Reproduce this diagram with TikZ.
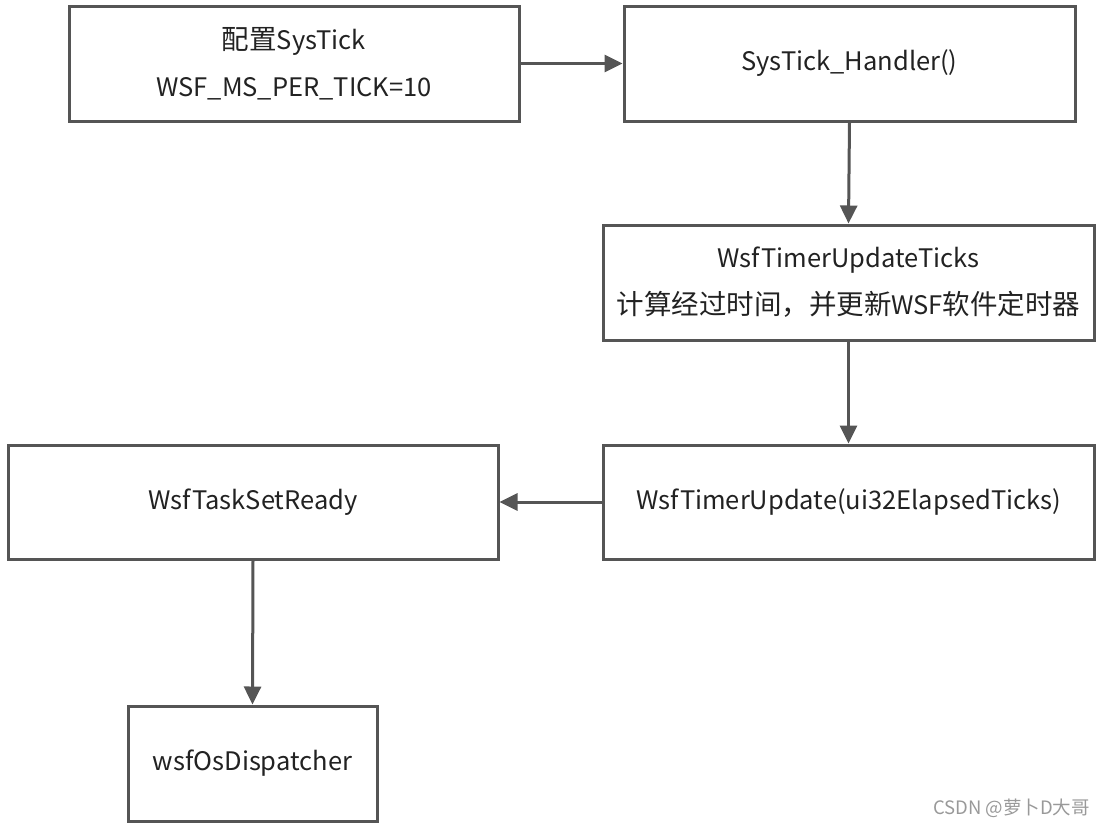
\documentclass[tikz,border=0pt]{standalone}
\usepackage{fontspec}
\setmainfont{Noto Sans CJK SC}
\usetikzlibrary{arrows.meta}
\definecolor{boxline}{HTML}{555555}
\definecolor{txt}{HTML}{222222}
\definecolor{wm}{HTML}{999999}
\newcommand{\cjkbig}[1]{{\fontsize{27.5pt}{47pt}\selectfont #1}}
\tikzset{
  flowbox/.style={draw=boxline, line width=3pt, fill=white, inner sep=0pt,
    align=center, text=txt, font=\fontsize{25.5pt}{47pt}\selectfont},
  flowarrow/.style={draw=boxline, line width=3pt,
    -{Triangle[length=18pt,width=17pt]}},
}
\begin{document}
\begin{tikzpicture}[x=1pt,y=-1pt]
\useasboundingbox (0,0) rectangle (1106,828);
\node[flowbox, minimum width=450pt, minimum height=115pt] (cfg) at (294,63.5)
  {\cjkbig{配置}SysTick\\WSF\_MS\_PER\_TICK=10};
\node[flowbox, minimum width=451pt, minimum height=115pt] (hdl) at (849.5,63.5)
  {SysTick\_Handler()};
\node[flowbox, minimum width=491pt, minimum height=115pt] (upt) at (848.5,282.5)
  {WsfTimerUpdateTicks\\\cjkbig{计算经过时间，并更新}WSF\cjkbig{软件定时器}};
\node[flowbox, minimum width=491pt, minimum height=114pt] (upd) at (848.5,502)
  {WsfTimerUpdate(ui32ElapsedTicks)};
\node[flowbox, minimum width=490pt, minimum height=114pt] (rdy) at (253,502)
  {WsfTaskSetReady};
\node[flowbox, minimum width=249pt, minimum height=115pt] (dsp) at (252.5,763.5)
  {wsfOsDispatcher};
\draw[flowarrow] (cfg.east) -- (hdl.west);
\draw[flowarrow] (hdl.south) -- (upt.north);
\draw[flowarrow] (upt.south) -- (upd.north);
\draw[flowarrow] (upd.west) -- (rdy.east);
\draw[flowarrow] (rdy.south) -- (dsp.north);
\node[anchor=east, text=wm, font=\fontsize{18.5pt}{20pt}\selectfont, inner sep=0pt] (wmark) at (1090,808) {CSDN @萝卜D大哥};
\end{tikzpicture}
\end{document}
